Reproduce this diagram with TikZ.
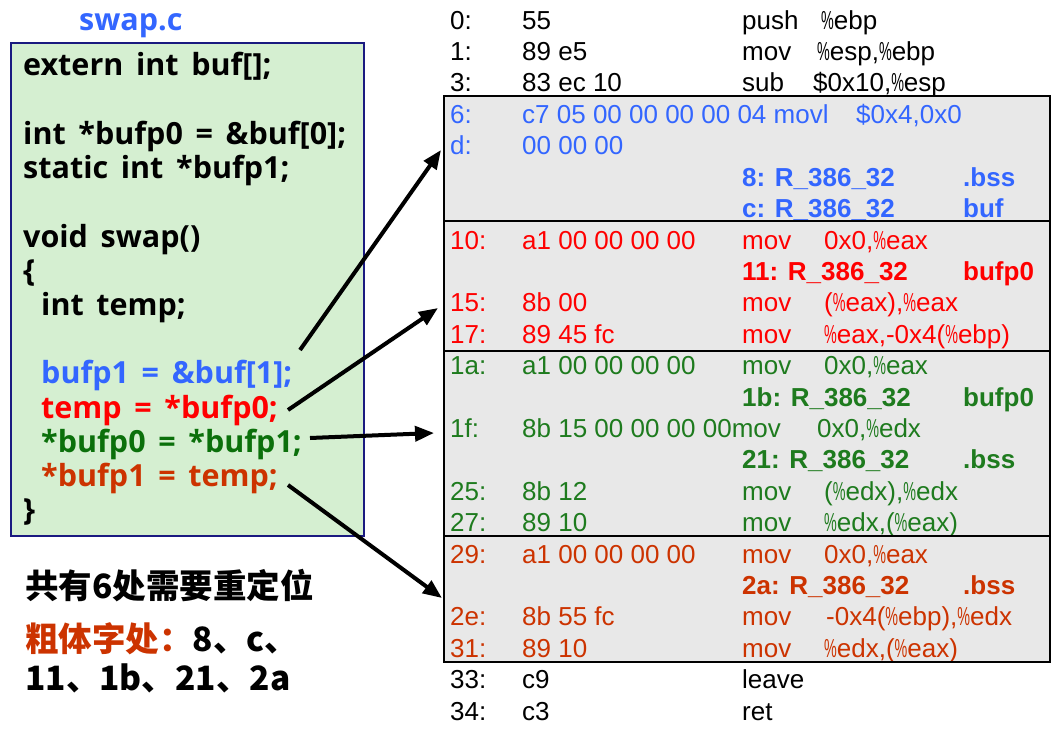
\documentclass[tikz,border=0pt]{standalone}
\usepackage{fontspec}
\usetikzlibrary{arrows.meta}
\newfontfamily\codefont{Open Sans}[WordSpace=1.6]
\newfontfamily\asmfont{Liberation Sans}
\newfontfamily\cjkfont{Noto Sans CJK SC}
\newcommand\pc{\scalebox{0.55}[1]{\%}}
\definecolor{cblue}{HTML}{3366FF}
\definecolor{cred}{HTML}{FF0000}
\definecolor{cgreen}{HTML}{0B700B}
\definecolor{agreen}{HTML}{1E7B1E}
\definecolor{cbrown}{HTML}{CC3300}
\definecolor{boxgreen}{HTML}{D5EFD1}
\definecolor{boxgray}{HTML}{E8E8E8}
\definecolor{navy}{HTML}{1A1A80}
\tikzset{
  code/.style={anchor=base west, inner sep=0pt, font=\codefont\bfseries\fontsize{30.5}{34}\selectfont},
  asm/.style={anchor=base west, inner sep=0pt, font=\asmfont\fontsize{26}{31}\selectfont},
  rel/.style={anchor=base west, inner sep=0pt, font=\asmfont\bfseries\fontsize{26}{31}\selectfont},
  cjk/.style={anchor=base west, inner sep=0pt, font=\cjkfont\bfseries\fontsize{33.5}{40}\selectfont},
  grayfill/.style={fill=boxgray, draw=none},
  grayedge/.style={draw=black, line width=2pt},
  arr/.style={line width=4pt, -{Triangle[length=19pt,width=15pt]}},
}
\begin{document}
\begin{tikzpicture}[x=1pt,y=-1pt]
\useasboundingbox (0,0) rectangle (1062,733);
% ---------- source box ----------
\draw[draw=navy, line width=1.5pt, fill=boxgreen] (11,43) rectangle (364,536);
\node[code, text=cblue] (title) at (79,31) {swap.c};
\node[code] (l0) at (23,76) {extern int buf[];};
\node[code] (l2) at (23,144.4) {int *bufp0 = \&buf[0];};
\node[code] (l3) at (23,178.6) {static int *bufp1;};
\node[code] (l5) at (23,247) {void swap()};
\node[code] (l6) at (23,281.2) {\{};
\node[code] (l7) at (41,315.4) {int temp;};
\node[code, text=cblue] (l9) at (41,383.8) {bufp1 = \&buf[1];};
\node[code, text=cred] (l10) at (41,418) {temp = *bufp0;};
\node[code, text=cgreen] (l11) at (41,452.2) {*bufp0 = *bufp1;};
\node[code, text=cbrown] (l12) at (41,486.4) {*bufp1 = temp;};
\node[code] (l13) at (23,520.6) {\}};
% ---------- notes ----------
\node[cjk] (n1) at (25,598.5) {共有6处需要重定位};
\node[cjk] (n2) at (25,651.5) {\textcolor{cbrown}{粗体字处：}8、c、};
\node[cjk] (n3) at (25,690) {11、1b、21、2a};
% ---------- gray boxes (fill) ----------
\fill[grayfill] (444,96.5) rectangle (1050,221);
\fill[grayfill] (444,221) rectangle (1050,350.5);
\fill[grayfill] (444,350.5) rectangle (1050,536);
\fill[grayfill] (444,536) rectangle (1050,662);
% ---------- listing ----------
\node[asm] (a0) at (450,29.2) {0:};
\node[asm] (b0) at (522,29.2) {55};
\node[asm] (m0) at (742,29.2) {push};
\node[asm] (o0) at (821,29.2) {\pc ebp};
\node[asm] (a1) at (450,60.6) {1:};
\node[asm] (b1) at (522,60.6) {89 e5};
\node[asm] (m1) at (742,60.6) {mov};
\node[asm] (o1) at (817,60.6) {\pc esp,\pc ebp};
\node[asm] (a2) at (450,92.0) {3:};
\node[asm] (b2) at (522,92.0) {83 ec 10};
\node[asm] (m2) at (742,92.0) {sub};
\node[asm] (o2) at (813,92.0) {\$0x10,\pc esp};
% blue block
\node[asm, text=cblue] (a3) at (450,123.4) {6:};
\node[asm, text=cblue] (b3) at (522,123.4) {c7 05 00 00 00 00 04 movl};
\node[asm, text=cblue] (o3) at (856,123.4) {\$0x4,0x0};
\node[asm, text=cblue] (a4) at (450,154.8) {d:};
\node[asm, text=cblue] (b4) at (522,154.8) {00 00 00};
\node[rel, text=cblue] (r5) at (742,186.2) {8: R\_386\_32};
\node[rel, text=cblue] (s5) at (963,186.2) {.bss};
\node[rel, text=cblue] (r6) at (742,217.6) {c: R\_386\_32};
\node[rel, text=cblue] (s6) at (963,217.6) {buf};
% red block
\node[asm, text=cred] (a7) at (450,249.0) {10:};
\node[asm, text=cred] (b7) at (522,249.0) {a1 00 00 00 00};
\node[asm, text=cred] (m7) at (742,249.0) {mov};
\node[asm, text=cred] (o7) at (824,249.0) {0x0,\pc eax};
\node[rel, text=cred] (r8) at (742,280.4) {11: R\_386\_32};
\node[rel, text=cred] (s8) at (963,280.4) {bufp0};
\node[asm, text=cred] (a9) at (450,311.8) {15:};
\node[asm, text=cred] (b9) at (522,311.8) {8b 00};
\node[asm, text=cred] (m9) at (742,311.8) {mov};
\node[asm, text=cred] (o9) at (824,311.8) {(\pc eax),\pc eax};
\node[asm, text=cred] (a10) at (450,343.2) {17:};
\node[asm, text=cred] (b10) at (522,343.2) {89 45 fc};
\node[asm, text=cred] (m10) at (742,343.2) {mov};
\node[asm, text=cred] (o10) at (824,343.2) {\pc eax,-0x4(\pc ebp)};
% green block
\node[asm, text=agreen] (a11) at (450,374.6) {1a:};
\node[asm, text=agreen] (b11) at (522,374.6) {a1 00 00 00 00};
\node[asm, text=agreen] (m11) at (742,374.6) {mov};
\node[asm, text=agreen] (o11) at (824,374.6) {0x0,\pc eax};
\node[rel, text=agreen] (r12) at (742,406.0) {1b: R\_386\_32};
\node[rel, text=agreen] (s12) at (963,406.0) {bufp0};
\node[asm, text=agreen] (a13) at (450,437.4) {1f:};
\node[asm, text=agreen] (b13) at (522,437.4) {8b 15 00 00 00 00mov};
\node[asm, text=agreen] (o13) at (817,437.4) {0x0,\pc edx};
\node[rel, text=agreen] (r14) at (742,468.8) {21: R\_386\_32};
\node[rel, text=agreen] (s14) at (963,468.8) {.bss};
\node[asm, text=agreen] (a15) at (450,500.2) {25:};
\node[asm, text=agreen] (b15) at (522,500.2) {8b 12};
\node[asm, text=agreen] (m15) at (742,500.2) {mov};
\node[asm, text=agreen] (o15) at (824,500.2) {(\pc edx),\pc edx};
\node[asm, text=agreen] (a16) at (450,531.6) {27:};
\node[asm, text=agreen] (b16) at (522,531.6) {89 10};
\node[asm, text=agreen] (m16) at (742,531.6) {mov};
\node[asm, text=agreen] (o16) at (824,531.6) {\pc edx,(\pc eax)};
% brown block
\node[asm, text=cbrown] (a17) at (450,563.0) {29:};
\node[asm, text=cbrown] (b17) at (522,563.0) {a1 00 00 00 00};
\node[asm, text=cbrown] (m17) at (742,563.0) {mov};
\node[asm, text=cbrown] (o17) at (824,563.0) {0x0,\pc eax};
\node[rel, text=cbrown] (r18) at (742,594.4) {2a: R\_386\_32};
\node[rel, text=cbrown] (s18) at (963,594.4) {.bss};
\node[asm, text=cbrown] (a19) at (450,625.8) {2e:};
\node[asm, text=cbrown] (b19) at (522,625.8) {8b 55 fc};
\node[asm, text=cbrown] (m19) at (742,625.8) {mov};
\node[asm, text=cbrown] (o19) at (826,625.8) {-0x4(\pc ebp),\pc edx};
\node[asm, text=cbrown] (a20) at (450,657.2) {31:};
\node[asm, text=cbrown] (b20) at (522,657.2) {89 10};
\node[asm, text=cbrown] (m20) at (742,657.2) {mov};
\node[asm, text=cbrown] (o20) at (824,657.2) {\pc edx,(\pc eax)};
% tail
\node[asm] (a21) at (450,688.6) {33:};
\node[asm] (b21) at (522,688.6) {c9};
\node[asm] (m21) at (742,688.6) {leave};
\node[asm] (a22) at (450,720.0) {34:};
\node[asm] (b22) at (522,720.0) {c3};
\node[asm] (m22) at (742,720.0) {ret};
% ---------- gray boxes (edges) ----------
\draw[grayedge] (444,96.5) rectangle (1050,221);
\draw[grayedge] (444,221) rectangle (1050,350.5);
\draw[grayedge] (444,350.5) rectangle (1050,536);
\draw[grayedge] (444,536) rectangle (1050,662);
% ---------- arrows ----------
\coordinate (s1) at (300,350);
\coordinate (e1) at (441,150);
\coordinate (s2) at (288,410);
\coordinate (e2) at (438,308);
\coordinate (s3) at (310,438);
\coordinate (e3) at (434,433);
\coordinate (s4) at (288,485);
\coordinate (e4) at (442,598);
\draw[arr] (s1) -- (e1);
\draw[arr] (s2) -- (e2);
\draw[arr] (s3) -- (e3);
\draw[arr] (s4) -- (e4);
\end{tikzpicture}
\end{document}
